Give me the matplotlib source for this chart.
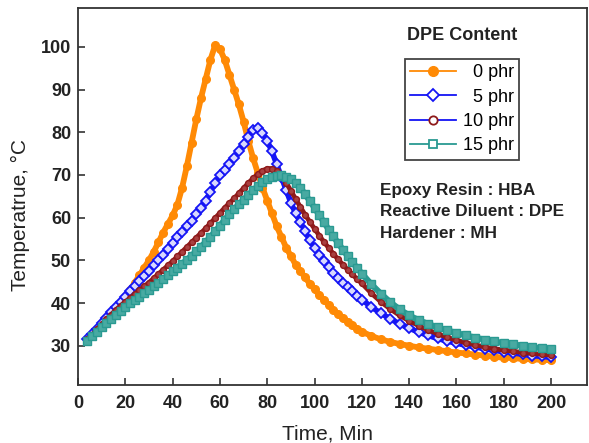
import matplotlib
matplotlib.use("Agg")
import matplotlib.pyplot as plt
from matplotlib.lines import Line2D

plt.rcParams['font.family'] = ['Liberation Sans', 'DejaVu Sans']

# ---------------- data ----------------
time_min = [4, 6, 8, 10, 12, 14, 16, 18, 20, 22, 24, 26, 28, 30, 32, 34, 36, 38, 40,
            42, 44, 46, 48, 50, 52, 54, 56, 58, 60, 62, 64, 66, 68, 70, 72, 74, 76, 78, 80,
            82, 84, 86, 88, 90, 92, 94, 96, 98, 100, 102, 104, 106, 108, 110, 112, 114, 116, 118, 120,
            124, 128, 132, 136, 140, 144, 148, 152, 156, 160, 164, 168, 172, 176, 180, 184, 188, 192, 196, 200]

temp_0phr = [31.5, 32.5, 33.7, 35.0, 36.2, 37.5, 38.8, 40.2, 41.5, 43.0, 44.8, 46.5, 48.3, 50.0, 52.0, 54.2, 56.5, 58.5, 60.5,
             63.0, 67.0, 72.0, 77.5, 83.0, 88.0, 92.5, 97.0, 100.4, 99.5, 97.0, 93.5, 90.0, 86.5, 82.5, 78.0, 74.0, 70.5, 67.0, 64.0,
             61.0, 58.0, 55.5, 53.0, 51.0, 49.0, 47.5, 46.0, 44.5, 43.2, 41.9, 40.7, 39.5, 38.4, 37.4, 36.5, 35.6, 34.8, 34.0, 33.3,
             32.3, 31.5, 30.9, 30.4, 30.0, 29.6, 29.3, 29.0, 28.7, 28.4, 28.2, 27.9, 27.7, 27.4, 27.2, 27.1, 26.9, 26.8, 26.7, 26.6]

temp_5phr = [31.5, 32.7, 34.0, 35.3, 36.5, 37.8, 39.0, 40.3, 41.5, 42.8, 44.0, 45.2, 46.4, 47.6, 48.8, 50.0, 51.3, 52.6, 54.0,
             55.4, 56.7, 58.0, 59.3, 60.8, 62.3, 64.0, 66.0, 68.2, 69.9, 71.1, 72.5, 74.0, 75.7, 77.3, 79.0, 80.6, 81.0, 79.8, 78.0,
             75.5, 72.5, 69.5, 66.5, 63.5, 61.0, 59.0, 56.8, 54.7, 53.0, 51.3, 49.8, 48.4, 47.1, 45.9, 44.8, 43.7, 42.7, 41.7, 40.8,
             39.1, 37.6, 36.3, 35.1, 34.1, 33.2, 32.4, 31.7, 31.1, 30.6, 30.1, 29.7, 29.3, 28.9, 28.6, 28.3, 28.0, 27.7, 27.5, 27.3]

temp_10phr = [31.5, 32.6, 33.8, 35.0, 36.2, 37.3, 38.4, 39.4, 40.3, 41.2, 42.1, 43.0, 43.9, 44.8, 45.8, 46.8, 47.8, 48.8, 49.8,
              50.9, 52.0, 53.1, 54.2, 55.3, 56.4, 57.5, 58.7, 59.9, 61.1, 62.3, 63.4, 64.5, 65.7, 66.9, 68.1, 69.2, 70.2, 71.0, 71.5,
              71.5, 71.0, 69.9, 68.2, 66.3, 64.4, 62.5, 60.7, 59.0, 57.4, 55.8, 54.3, 52.9, 51.5, 50.2, 49.0, 47.8, 46.7, 45.6, 44.6,
              42.3, 40.3, 38.6, 37.1, 35.8, 34.7, 33.7, 32.8, 32.0, 31.3, 30.7, 30.2, 29.7, 29.3, 29.0, 28.7, 28.4, 28.2, 28.0, 27.8]

temp_15phr = [31.2, 32.2, 33.2, 34.3, 35.3, 36.3, 37.3, 38.2, 39.1, 39.9, 40.7, 41.5, 42.3, 43.1, 43.9, 44.8, 45.6, 46.5, 47.4,
              48.3, 49.2, 50.1, 51.1, 52.1, 53.2, 54.3, 55.5, 56.8, 58.1, 59.5, 60.8, 62.0, 63.1, 64.2, 65.3, 66.4, 67.4, 68.3, 69.0,
              69.5, 69.8, 69.9, 69.6, 69.1, 68.2, 67.0, 65.5, 63.9, 62.3, 60.6, 58.9, 57.2, 55.6, 54.0, 52.5, 51.0, 49.6, 48.2, 46.9,
              44.4, 42.2, 40.2, 38.5, 37.1, 36.0, 35.1, 34.3, 33.6, 33.0, 32.4, 31.9, 31.4, 31.0, 30.6, 30.3, 30.0, 29.7, 29.4, 29.2]

series_labels = ['  0 phr', '  5 phr', '10 phr', '15 phr']
x_ticks = [0, 20, 40, 60, 80, 100, 120, 140, 160, 180, 200]
y_ticks = [30, 40, 50, 60, 70, 80, 90, 100]
annotation_lines = ['Epoxy Resin : HBA', 'Reactive Diluent : DPE', 'Hardener : MH']

# ---------------- styles ----------------
c_orange = '#ff8a05'
c_blue = '#1414f5'
c_red = '#8e1a1a'
c_teal = '#2a9a92'

W, H = 589, 443
fig = plt.figure(figsize=(W / 100, H / 100), dpi=100)
ax = fig.add_axes([78 / W, 1 - 385 / H, 509 / W, 377 / H])

ax.plot(time_min, temp_0phr, color=c_orange, lw=4.2, marker='o', ms=5.5, mfc=c_orange,
        mec=c_orange, solid_capstyle='round', solid_joinstyle='round', zorder=2)
ax.plot(time_min, temp_5phr, color=c_blue, lw=4.0, marker='D', ms=5.5, mfc='#d8d8ff',
        mec=c_blue, mew=1.3, solid_joinstyle='round', zorder=3)
ax.plot(time_min, temp_10phr, color=c_red, lw=3.4, marker='o', ms=4.2, mfc='#a84040',
        mec=c_red, mew=1.0, solid_joinstyle='round', zorder=4)
ax.plot(time_min, temp_15phr, color=c_teal, lw=4.4, marker='s', ms=5.5, mfc='#48aaa2',
        mec=c_teal, mew=1.0, solid_joinstyle='round', zorder=5)

ax.set_xlim(0, 215.2)
ax.set_ylim(20.8, 109.1)
ax.set_xticks(x_ticks)
ax.set_yticks(y_ticks)
ax.tick_params(direction='in', length=5, width=1.2, color='#333333',
               labelsize=13, top=False, right=False)
ax.tick_params(axis='x', pad=7)
ax.tick_params(axis='y', pad=5)
for lab in ax.get_xticklabels() + ax.get_yticklabels():
    lab.set_fontweight('bold')
    lab.set_color('#222222')
for sp in ax.spines.values():
    sp.set_linewidth(1.3)
    sp.set_color('#333333')

ax.set_xlabel('Time, Min', fontsize=15, color='#222222')
ax.set_ylabel('Temperatrue, °C', fontsize=15, color='#222222')
ax.xaxis.set_label_coords(0.49, -0.105)
ax.yaxis.set_label_coords(-0.095, 0.45)

# legend title and legend
fig.text(462 / W, 1 - 36 / H, 'DPE Content', fontsize=13, fontweight='bold',
         ha='center', va='center', color='#222222')
handles = [
    Line2D([], [], color=c_orange, lw=1.3, marker='o', ms=7, mfc=c_orange, mec=c_orange),
    Line2D([], [], color=c_blue, lw=1.3, marker='D', ms=6, mfc='white', mec=c_blue, mew=1.3),
    Line2D([], [], color=c_blue, lw=1.3, marker='o', ms=6, mfc='white', mec=c_red, mew=1.3),
    Line2D([], [], color=c_teal, lw=1.3, marker='s', ms=6, mfc='white', mec=c_teal, mew=1.3),
]
leg = fig.legend(handles, series_labels, loc='upper left',
                 bbox_to_anchor=(405 / W, 1 - 59 / H), borderaxespad=0,
                 fontsize=13, frameon=True, fancybox=False, framealpha=1,
                 edgecolor='#444444', handlelength=2.5, handletextpad=0.4,
                 labelspacing=0.4, borderpad=0.3, numpoints=1)
leg.get_frame().set_linewidth(1.3)

for i, line in enumerate(annotation_lines):
    fig.text(380 / W, 1 - (190 + 22 * i) / H, line, fontsize=12.3, fontweight='bold',
             ha='left', va='center', color='#222222')

fig.savefig('out.png', dpi=100)
